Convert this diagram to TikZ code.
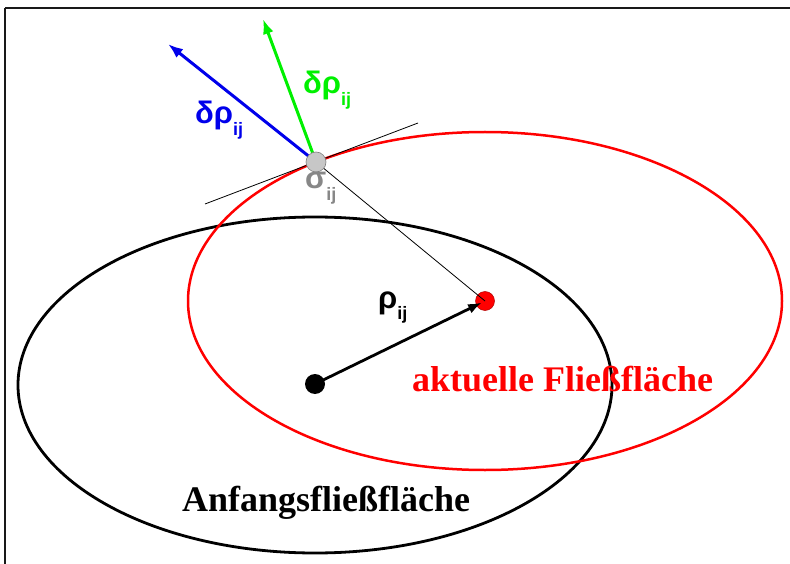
\documentclass[tikz,border=0pt]{standalone}
\usepackage{fontspec}
\setmainfont{Liberation Serif}
\newfontfamily\grk{Liberation Sans}
\usetikzlibrary{arrows.meta}
\definecolor{grn}{RGB}{0,240,0}
\definecolor{blu}{RGB}{0,0,235}
\definecolor{rd}{RGB}{255,0,0}
\definecolor{gry}{RGB}{135,135,135}
\tikzset{
  frame/.style={line width=2.5pt, draw=black!90},
  surf/.style={line width=2.8pt},
  vec/.style={line width=3pt, -{Latex[length=15pt,width=11pt]}},
  thin/.style={line width=0.8pt, black},
  dot/.style={circle, inner sep=0pt, minimum size=20pt},
  big/.style={font=\fontsize{36}{40}\selectfont\bfseries, inner sep=0pt},
  glab/.style={font=\fontsize{31}{32}\selectfont\grk\bfseries, inner sep=0pt, anchor=base west},
}
\newcommand{\subij}{\raisebox{-0.38em}{\fontsize{18}{19}\selectfont\bfseries ij}}
\begin{document}
\begin{tikzpicture}[x=1pt,y=-1pt]
\useasboundingbox (0,0) rectangle (790,564);
\fill[white] (0,0) rectangle (790,564);
\draw[frame] (5,8) -- (800,8);
\draw[frame] (5,8) -- (5,575);
% ellipses
\draw[surf, black] (315,385) ellipse [x radius=297, y radius=168];
\draw[surf, rd, line width=2.5pt] (485,301) ellipse [x radius=297, y radius=169];
% dots
\node[dot, fill=black] (b) at (315,384) {};
\node[dot, fill=rd, draw=rd!70!black, line width=0.5pt, minimum size=19pt] (r) at (485,301) {};
\coordinate (g0) at (316,162);
\coordinate (t1) at (205,204);
\coordinate (t2) at (418,123);
\coordinate (tb) at (168,44);
\coordinate (tg) at (263,19);
% tangent and radial line
\draw[thin] (t1) -- (t2);
\draw[thin] (g0) -- (r.center);
% vectors
\draw[vec, blu] (g0) -- (tb);
\draw[vec, grn] (g0) -- (tg);
\draw[vec, black, line width=2.8pt, -{Latex[length=14pt,width=10pt]}] (b.center) -- (482,302.5);
\node[dot, fill=black!22, draw=black!50, line width=0.6pt] (g) at (g0) {};
% labels
\node[glab, text=blu] (lb) at (195,124) {δρ\subij};
\node[glab, text=grn] (lg) at (303,94) {δρ\subij};
\node[glab, text=gry] (ls) at (305,189) {σ\subij};
\node[glab, text=black] (lr) at (378,308) {ρ\subij};
\node[big, text=rd, anchor=base west] (la) at (412,391) {aktuelle Fließfläche};
\node[big, text=black, anchor=base west] (lf) at (182,511) {Anfangsfließfläche};
\end{tikzpicture}
\end{document}
